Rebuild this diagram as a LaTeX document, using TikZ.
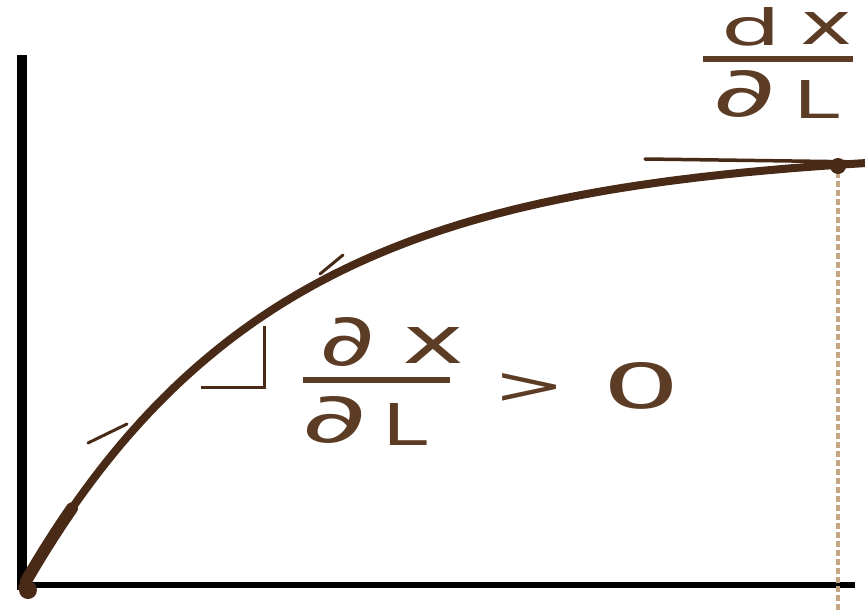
\documentclass[tikz,border=0pt]{standalone}
\usepackage{fontspec}
\setmainfont{DejaVu Sans}
\usepackage{graphicx}
\definecolor{ink}{RGB}{72,42,22}
\definecolor{txt}{RGB}{92,60,36}
\definecolor{tanline}{RGB}{196,166,130}
\tikzset{
  glyph/.style={inner sep=0pt, text=txt},
  fracbar/.style={draw=txt, line width=6pt},
  axis/.style={draw=black},
  curve/.style={draw=ink, line width=8pt, line cap=round},
  thinink/.style={draw=ink, line width=3pt, line cap=round},
  guide/.style={draw=tanline, line width=3.5pt, dash pattern=on 6pt off 3pt}
}
\begin{document}
\begin{tikzpicture}[x=1pt,y=-1pt]
\useasboundingbox[fill=white] (0,0) rectangle (865,610);
% axes
\draw[axis, line width=10pt] (22,55) -- (22,590);
\draw[axis, line width=6pt] (17,585) -- (855,585);
% dotted guide
\draw[guide] (838,172) -- (838,610);
% curve
\draw[curve] plot[domain=0:843, samples=120] ({22+\x},{588-440*(1-exp(-\x/250))});
\draw[curve, line width=12pt] plot[domain=4:50, samples=20] ({22+\x},{588-440*(1-exp(-\x/250))});
\fill[ink] (28,590) circle (9pt);
\fill[ink] (838,166) circle (8pt);
% tangent line at top
\draw[thinink, line width=3.5pt] (645,159) -- (865,162);
% small tick marks
\draw[thinink] (343,255) -- (320,274);
\draw[thinink] (88,443) -- (127,424);
% slope triangle
\draw[draw=ink, line width=3pt] (201,387) -- (264,387) -- (264,326);
% middle label
\node[glyph] (n1d) at (348,342) {\resizebox{56pt}{48pt}{∂}};
\node[glyph] (n1x) at (433,345) {\resizebox{62pt}{36pt}{x}};
\draw[fracbar] (303,380) -- (450,380);
\node[glyph] (d1d) at (335,420) {\resizebox{66pt}{46pt}{∂}};
\node[glyph] (d1L) at (405,424) {\resizebox{45pt}{42pt}{L}};
\node[glyph] (gt) at (530,388) {\resizebox{72pt}{30pt}{>}};
\node[glyph] (zero) at (642,386) {\resizebox{78pt}{46pt}{0}};
% top label
\node[glyph] (n2d) at (751,27) {\resizebox{60pt}{38pt}{d}};
\node[glyph] (n2x) at (826,29) {\resizebox{52pt}{32pt}{x}};
\draw[fracbar] (703,59) -- (853,59);
\node[glyph] (d2d) at (745,94) {\resizebox{64pt}{46pt}{∂}};
\node[glyph] (d2L) at (816,99) {\resizebox{46pt}{38pt}{L}};
\end{tikzpicture}
\end{document}
